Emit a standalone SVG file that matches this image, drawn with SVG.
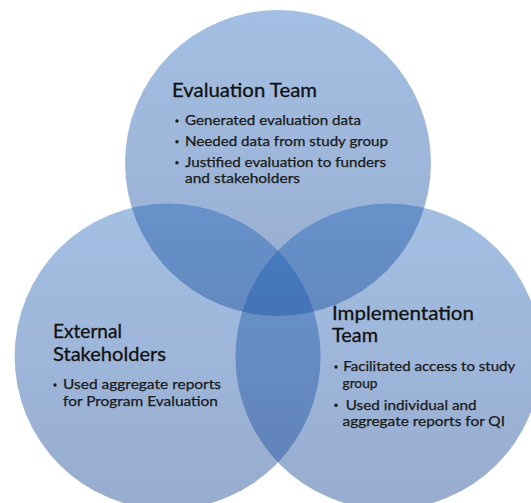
<svg xmlns="http://www.w3.org/2000/svg" width="531" height="503" viewBox="0 0 531 503">
<defs>
<linearGradient id="g" x1="0" y1="0" x2="0" y2="1">
<stop offset="0" stop-color="rgb(25,95,183)" stop-opacity="0.40"/>
<stop offset="1" stop-color="rgb(30,75,150)" stop-opacity="0.46"/>
</linearGradient>
<style>
.c{fill:url(#g);}
.h{font-family:Lato,"Open Sans","Liberation Sans",sans-serif;font-size:20px;fill:#111;stroke:#111;stroke-width:0.3;}
.b{font-family:Lato,"Open Sans","Liberation Sans",sans-serif;font-size:13px;fill:#1a1a1a;stroke:#1a1a1a;stroke-width:0.25;}
.d{fill:#1a1a1a;}
</style>
</defs>
<rect width="531" height="503" fill="#fff"/>
<g id="evaluation-team">
<circle class="c" cx="278" cy="163" r="153"/>
<text class="h" x="172" y="97" textLength="145" lengthAdjust="spacingAndGlyphs">Evaluation Team</text>
<circle class="d" cx="177" cy="121" r="1.7"/>
<text class="b" x="185" y="125" textLength="176" lengthAdjust="spacingAndGlyphs">Generated evaluation data</text>
<circle class="d" cx="177" cy="141.7" r="1.7"/>
<text class="b" x="185" y="145.7" textLength="203" lengthAdjust="spacingAndGlyphs">Needed data from study group</text>
<circle class="d" cx="177" cy="162.7" r="1.7"/>
<text class="b" x="185" y="166.7" textLength="201" lengthAdjust="spacingAndGlyphs">Justified evaluation to funders</text>
<text class="b" x="185" y="183.3" textLength="115" lengthAdjust="spacingAndGlyphs">and stakeholders</text>
</g>
<g id="external-stakeholders">
<circle class="c" cx="167.6" cy="356.5" r="153"/>
<text class="h" x="53" y="338" textLength="69" lengthAdjust="spacingAndGlyphs">External</text>
<text class="h" x="53" y="360.5" textLength="113" lengthAdjust="spacingAndGlyphs">Stakeholders</text>
<circle class="d" cx="55" cy="385" r="1.7"/>
<text class="b" x="63" y="389" textLength="158" lengthAdjust="spacingAndGlyphs">Used aggregate reports</text>
<text class="b" x="63" y="406" textLength="155" lengthAdjust="spacingAndGlyphs">for Program Evaluation</text>
</g>
<g id="implementation-team">
<circle class="c" cx="388.4" cy="356.5" r="153"/>
<text class="h" x="332" y="320" textLength="142" lengthAdjust="spacingAndGlyphs">Implementation</text>
<text class="h" x="332" y="341.7" textLength="46" lengthAdjust="spacingAndGlyphs">Team</text>
<circle class="d" cx="336" cy="367" r="1.7"/>
<text class="b" x="343.3" y="371" textLength="172" lengthAdjust="spacingAndGlyphs">Facilitated access to study</text>
<text class="b" x="342.5" y="387.7" textLength="35" lengthAdjust="spacingAndGlyphs">group</text>
<circle class="d" cx="336" cy="405.3" r="1.7"/>
<text class="b" x="345.7" y="409.5" textLength="131" lengthAdjust="spacingAndGlyphs">Used individual and</text>
<text class="b" x="342.5" y="426" textLength="162.5" lengthAdjust="spacingAndGlyphs">aggregate reports for QI</text>
</g>
<g id="connectors"/>
</svg>
